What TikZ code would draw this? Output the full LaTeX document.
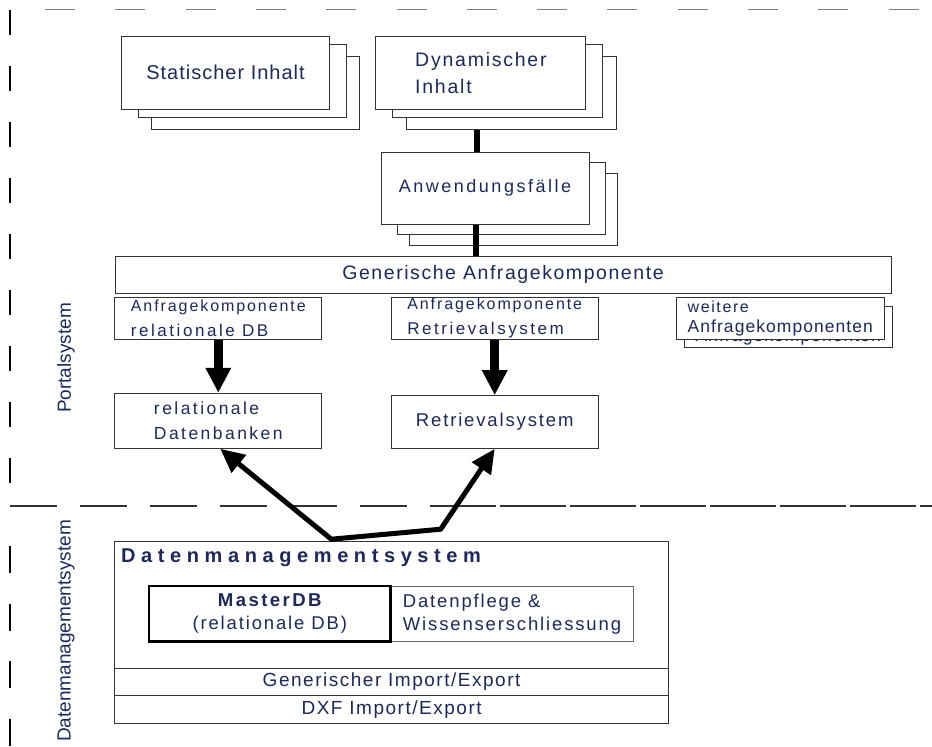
\documentclass[tikz,border=0pt]{standalone}
\usepackage{fontspec}
\setmainfont{Liberation Sans}
\usetikzlibrary{arrows.meta}
\newcommand{\lsfont}[3]{\fontsize{#1}{#2}\selectfont\addfontfeatures{LetterSpace=#3}}

\begin{document}
\begin{tikzpicture}[x=1pt,y=-1pt,
  box/.style={shape=rectangle,draw=black!80,fill=white,line width=1pt,inner sep=0pt,text=navytext},
  linkline/.style={line width=6pt},
  downarrow/.style={line width=9pt,-{Triangle[width=24pt,length=25pt]}},
  dmarrow/.style={line width=5pt,line join=round,{Triangle[width=22pt,length=24pt]}-{Triangle[width=22pt,length=24pt]}},
  sidelabel/.style={text=navytext,rotate=90,font=\lsfont{19}{23}{0}}]
\definecolor{navytext}{RGB}{30,40,92}
\useasboundingbox (0,0) rectangle (932,747);

% frame lines
\draw[black!50,line width=1.3pt,dash pattern=on 30pt off 40.3pt] (45,9.5) -- (932,9.5);
\draw[line width=1.2pt,dash pattern=on 25pt off 31pt] (10,10) -- (10,484);
\draw[line width=1.2pt,dash pattern=on 27pt off 30.5pt] (10,546) -- (10,747);
\draw[black!80,line width=1.2pt,dash pattern=on 47pt off 23pt] (10,506) -- (430,506);
\draw[black!80,line width=1.2pt,dash pattern=on 66pt off 4pt] (430,506) -- (932,506);

% portal
\node[box,minimum width=208pt,minimum height=73pt] (stat3) at (255,93) {};
\node[box,minimum width=208pt,minimum height=73pt] (stat2) at (242,81.4) {};
\node[box,minimum width=208pt,minimum height=73pt,font=\lsfont{20}{24}{5}] (stat) at (225.5,72.7) {Statischer Inhalt};
\node[box,minimum width=210pt,minimum height=73pt] (dyn3) at (511.3,93) {};
\node[box,minimum width=210pt,minimum height=73pt] (dyn2) at (497.2,81.4) {};
\node[box,minimum width=210pt,minimum height=73pt,align=left,font=\lsfont{19.5}{26.7}{9}] (dyn) at (480.9,72.7) {Dynamischer\\Inhalt};
\node[box,minimum width=208pt,minimum height=72pt] (anw3) at (513.7,209.7) {};
\node[box,minimum width=208pt,minimum height=72pt] (anw2) at (501.2,198) {};
\node[box,minimum width=208pt,minimum height=72pt,font=\lsfont{18}{22}{14}] (anw) at (485,188) {Anwendungsfälle};
\node[box,minimum width=776pt,minimum height=37.3pt,font=\lsfont{19.5}{24}{8}] (gen) at (503,274.7) {Generische Anfragekomponente};
\node[box,minimum width=206.7pt,minimum height=42pt,align=left,font=\lsfont{17}{25}{15}] (akrel) at (218.3,318.3) {{\lsfont{16}{25}{12}Anfragekomponente}\\relationale DB};
\node[box,minimum width=207.3pt,minimum height=42pt,align=left,font=\lsfont{17}{25}{15}] (akret) at (494.7,318.2) {{\lsfont{16}{25}{12}Anfragekomponente}\\Retrievalsystem};
\node[box,minimum width=208pt,minimum height=41.5pt,align=left,font=\lsfont{17.5}{20}{6}] (weit2) at (788.3,327.2) {{\lsfont{16}{20}{10}weitere}\\Anfragekomponenten};
\node[box,minimum width=208pt,minimum height=41.5pt,align=left,font=\lsfont{17.5}{20}{6}] (weit) at (780.3,318.3) {{\lsfont{16}{20}{10}weitere}\\Anfragekomponenten};
\node[box,minimum width=206.7pt,minimum height=55pt,align=left,font=\lsfont{17.5}{25}{14}] (reldb) at (218.3,420.8) {relationale\\Datenbanken};
\node[box,minimum width=207.3pt,minimum height=52.6pt,font=\lsfont{18.5}{22}{10}] (retr) at (494.7,422) {Retrievalsystem};

% datenmanagement
\node[box,minimum width=553.7pt,minimum height=126.6pt] (dms) at (391.6,605) {};
\node[anchor=base west,inner sep=0pt,text=navytext,font=\bfseries\lsfont{20}{24}{28}] (dmstitle) at ([xshift=6.7pt,yshift=-21pt]dms.north west) {Datenmanagementsystem};
\node[box,draw=black!60,minimum width=242.6pt,minimum height=55pt,align=left,font=\lsfont{18.5}{23.4}{10}] (pflege) at (512,614.2) {Datenpflege \&\\Wissenserschliessung};
\node[box,draw=black,line width=2.5pt,minimum width=241.8pt,minimum height=55.7pt,align=center,font=\lsfont{18.5}{23.4}{10}] (master) at (269.8,613.8) {{\bfseries\lsfont{18.6}{23.4}{13}MasterDB}\\(relationale DB)};
\node[box,minimum width=553.7pt,minimum height=27.4pt,font=\lsfont{19}{22}{8}] (genimp) at (391.6,682) {Generischer Import/Export};
\node[box,minimum width=553.7pt,minimum height=27.6pt,font=\lsfont{19}{22}{8}] (dxf) at (391.6,709.5) {DXF Import/Export};

\node[sidelabel] (portal) at (66,358) {Portalsystem};
\node[sidelabel] (dmslabel) at (66,631) {Datenmanagementsystem};

% connectors
\coordinate (toplink) at ([xshift=-8pt]anw.north);
\coordinate (botlink) at ([xshift=-9pt]anw.south);
\draw[linkline] (toplink |- dyn3.south) -- (toplink);
\draw[linkline] (botlink) -- (botlink |- gen.north);
\draw[downarrow] (akrel.south) -- (reldb.north);
\draw[downarrow] (akret.south) -- (retr.north);
\draw[dmarrow] ([xshift=2pt]reldb.south) -- ([shift={(-60.3pt,2pt)}]dms.north) -- ++(109.4,-10) -- (retr.south);
\end{tikzpicture}
\end{document}
